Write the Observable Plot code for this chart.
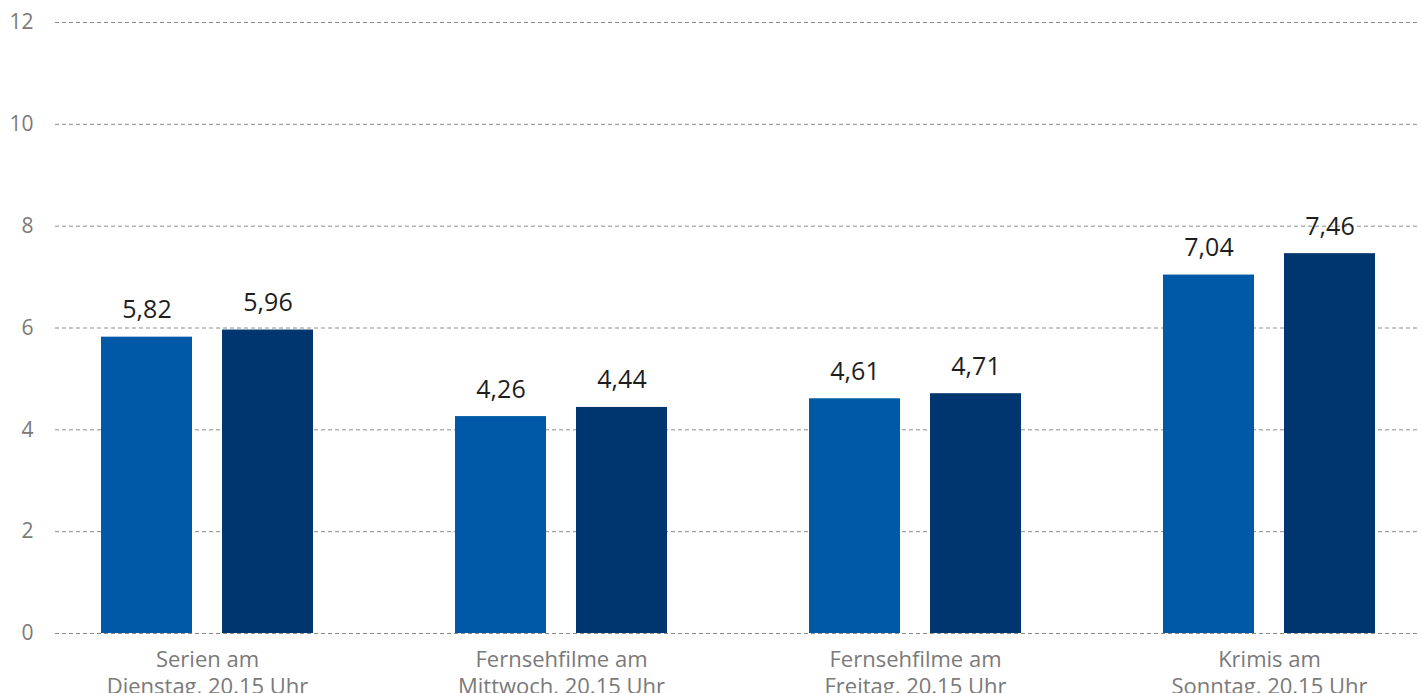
<!DOCTYPE html>
<html>
<head>
<meta charset="utf-8">
<script src="https://cdn.jsdelivr.net/npm/d3@7"></script>
<script src="https://cdn.jsdelivr.net/npm/@observablehq/plot@0.6"></script>
<style>
  html, body { margin: 0; padding: 0; background: #fff; }
  #chart svg { display: block; }
</style>
</head>
<body>
<div id="chart"></div>
<script>
const groups = [
  "Serien am\nDienstag, 20.15 Uhr",
  "Fernsehfilme am\nMittwoch, 20.15 Uhr",
  "Fernsehfilme am\nFreitag, 20.15 Uhr",
  "Krimis am\nSonntag, 20.15 Uhr"
];
const seriesA = [5.82, 4.26, 4.61, 7.04];
const seriesB = [5.96, 4.44, 4.71, 7.46];
const yTicks = [0, 2, 4, 6, 8, 10, 12];

const dataA = groups.map((g, i) => ({group: g, value: seriesA[i]}));
const dataB = groups.map((g, i) => ({group: g, value: seriesB[i]}));

const fmt = d3.formatLocale({decimal: ",", thousands: ".", grouping: [3], currency: ["", " €"]}).format(".2f");
const font = "'Open Sans', 'Noto Sans', sans-serif";

const colorA = "#0059a7";
const colorB = "#00366f";

const chart = Plot.plot({
  width: 1422,
  height: 693,
  marginTop: 22,
  marginBottom: 60,
  marginLeft: 55,
  marginRight: 5,
  style: {fontFamily: font, background: "#fff"},
  x: {domain: groups, range: [57, 1419], paddingInner: 0.4023, paddingOuter: 0.1213},
  y: {domain: [0, 12]},
  marks: [
    Plot.ruleY(yTicks, {stroke: "#8c8c8c", strokeWidth: 1, strokeDasharray: "4,3"}),
    Plot.barY(dataA, {x: "group", y: "value", fill: colorA, insetRight: 121}),
    Plot.barY(dataB, {x: "group", y: "value", fill: colorB, insetLeft: 121}),
    Plot.text(dataA, {x: "group", y: "value", text: d => fmt(d.value), dx: -60.5, dy: -19, lineAnchor: "bottom", fontSize: 25, fill: "#1e1e1e"}),
    Plot.text(dataB, {x: "group", y: "value", text: d => fmt(d.value), dx: 60.5, dy: -19, lineAnchor: "bottom", fontSize: 25, fill: "#1e1e1e"}),
    Plot.axisY({ticks: yTicks, tickSize: 0, tickPadding: 22, fontSize: 21, color: "#7a7a7a", label: null}),
    Plot.axisX({tickSize: 0, tickPadding: 15, fontSize: 22, lineHeight: 1.2, color: "#7a7a7a", label: null})
  ]
});
document.getElementById("chart").appendChild(chart);
</script>
</body>
</html>
